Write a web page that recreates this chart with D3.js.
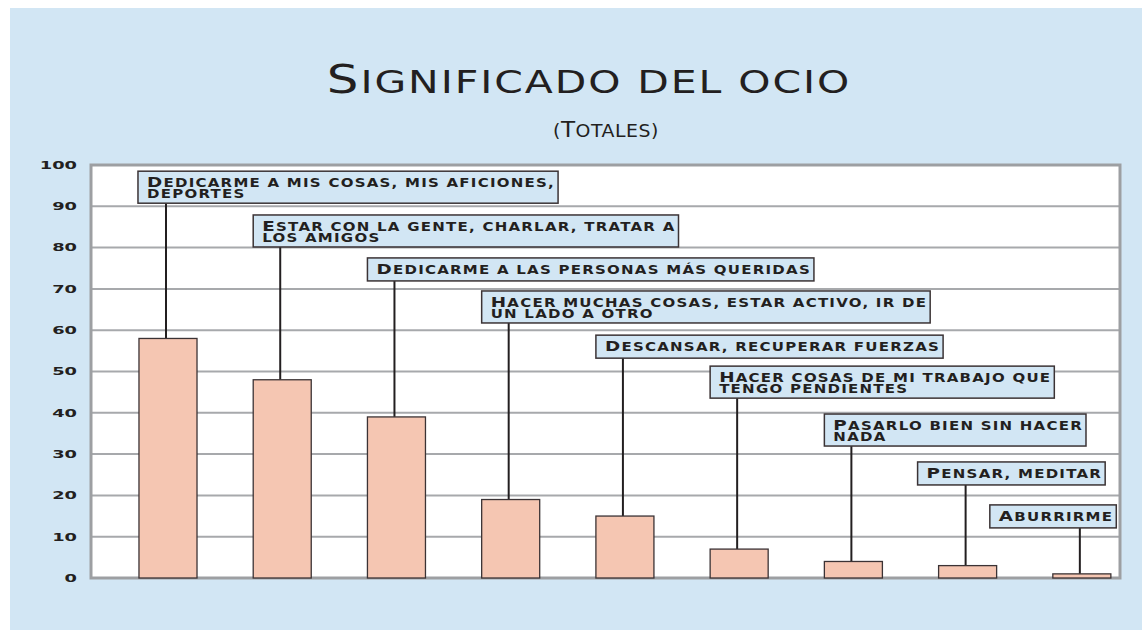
<!DOCTYPE html>
<html><head><meta charset="utf-8">
<script src="https://cdn.jsdelivr.net/npm/d3@7"></script>
<style>
html,body{margin:0;padding:0;background:#fff;}
svg text{font-family:"DejaVu Sans",sans-serif;fill:#231f20;}
</style></head>
<body>
<svg id="chart" width="1142" height="630"></svg>
<script>
// ---- data ----
const categories = [
  ["Dedicarme a mis cosas, mis aficiones,", "deportes"],
  ["Estar con la gente, charlar, tratar a", "los amigos"],
  ["Dedicarme a las personas más queridas"],
  ["Hacer muchas cosas, estar activo, ir de", "un lado a otro"],
  ["Descansar, recuperar fuerzas"],
  ["Hacer cosas de mi trabajo que", "tengo pendientes"],
  ["Pasarlo bien sin hacer", "nada"],
  ["Pensar, meditar"],
  ["Aburrirme"]
];
const values = [58, 48, 39, 19, 15, 7, 4, 3, 1];
const yTicks = [0, 10, 20, 30, 40, 50, 60, 70, 80, 90, 100];
const title = "Significado del ocio";
const subtitle = "(Totales)";
// callout box top, in data units
const labelTop = [98.5, 87.9, 77.5, 69.5, 58.8, 51.3, 39.7, 28.1, 17.7];
// horizontal offset of callout box relative to bar left (px)
const labelShift = [-1, 0, 0, 0, 0, 0, 0, -21, -63];

const svg = d3.select("#chart");
svg.append("rect").attr("x",10).attr("y",8).attr("width",1132).attr("height",622).attr("fill","#d2e6f4");

const pL = 91, pR = 1120, pT = 165, pB = 578;
const x = d3.scaleBand().domain(d3.range(values.length)).range([pL, pR])
  .paddingInner(0.492).paddingOuter(0.25).align(0.84);
const y = d3.scaleLinear().domain([0,100]).range([pB, pT]);

// small-caps writer: uppercase chars of the source at big size, the rest uppercased at small size
function smallCaps(textSel, str, big, small, lineY){
  const runs = [];
  for (const ch of str){
    const isBig = ch !== ch.toLowerCase();
    const last = runs[runs.length-1];
    if (last && last.big === isBig) last.s += ch; else runs.push({big:isBig, s:ch});
  }
  runs.forEach((r,k)=>{
    const ts = textSel.append("tspan").style("font-size",(r.big?big:small)+"px").text(r.s.toUpperCase());
    if (k===0 && lineY!==undefined) ts.attr("x",0).attr("y",lineY);
  });
  return textSel;
}

// plot background
svg.append("rect").attr("x",pL).attr("y",pT).attr("width",pR-pL).attr("height",pB-pT).attr("fill","#fff");

// grid
svg.append("g").selectAll("line").data(yTicks.filter(d=>d>0&&d<100)).join("line")
  .attr("x1",pL).attr("x2",pR).attr("y1",d=>y(d)).attr("y2",d=>y(d))
  .attr("stroke","#a7a9ac").attr("stroke-width",2);

// frame
svg.append("rect").attr("x",pL).attr("y",pT).attr("width",pR-pL).attr("height",pB-pT)
  .attr("fill","none").attr("stroke","#9d9fa2").attr("stroke-width",3);

// y axis
const tickScale = 1.7;
const yAxis = d3.axisLeft(y).tickValues(yTicks).tickSize(0).tickPadding(14);
const ga = svg.append("g").attr("transform",`translate(${pL},0)`).call(yAxis);
ga.select(".domain").remove();
ga.selectAll("text")
  .attr("x", -14/tickScale).attr("transform",`scale(${tickScale},1)`)
  .style("font-family","DejaVu Sans").style("font-weight","bold").style("font-size","10.5px")
  .attr("fill","#231f20");

// leader lines
const boxH = lines => lines.length>1 ? 32 : 23;
svg.append("g").selectAll("line").data(values).join("line")
  .attr("x1",(d,i)=>x(i)+x.bandwidth()/2-2).attr("x2",(d,i)=>x(i)+x.bandwidth()/2-2)
  .attr("y1",(d,i)=>y(labelTop[i])+boxH(categories[i]))
  .attr("y2",d=>y(d))
  .attr("stroke","#231f20").attr("stroke-width",2);

// bars
svg.append("g").selectAll("rect").data(values).join("rect")
  .attr("x",(d,i)=>x(i)).attr("width",x.bandwidth())
  .attr("y",d=>y(d)).attr("height",d=>y(0)-y(d))
  .attr("fill","#f5c6b2").attr("stroke","#3b3335").attr("stroke-width",1.3);

// callouts (one text element per callout, one tspan line per row)
const lblScale = 1.25;
categories.forEach((lines,i)=>{
  const g = svg.append("g");
  const bx = x(i) + labelShift[i], by = y(labelTop[i]);
  const rect = g.append("rect");
  const base = lines.length>1 ? by + 16 : by + 16;
  const t = g.append("text")
    .attr("transform",`translate(${bx+9},${base}) scale(${lblScale},1)`)
    .style("font-weight","bold").style("letter-spacing","1px");
  lines.forEach((ln,j)=> smallCaps(t, ln, 14.7, 12, j*11));
  const w = t.node().getBBox().width*lblScale;
  rect.attr("x",bx).attr("y",by).attr("width",w+12).attr("height",boxH(lines))
    .attr("fill","#d2e6f4").attr("stroke","#3b3335").attr("stroke-width",1.5);
});

// titles
const tScale = 1.3;
smallCaps(svg.append("text").attr("text-anchor","middle")
  .attr("transform",`translate(589,93) scale(${tScale},1)`)
  .style("letter-spacing","1.5px"), title, 38.4, 31.5);
smallCaps(svg.append("text").attr("text-anchor","middle")
  .attr("transform",`translate(606,137) scale(1.05,1)`)
  .style("letter-spacing","0.5px"), subtitle, 22, 18);
</script>
</body></html>
